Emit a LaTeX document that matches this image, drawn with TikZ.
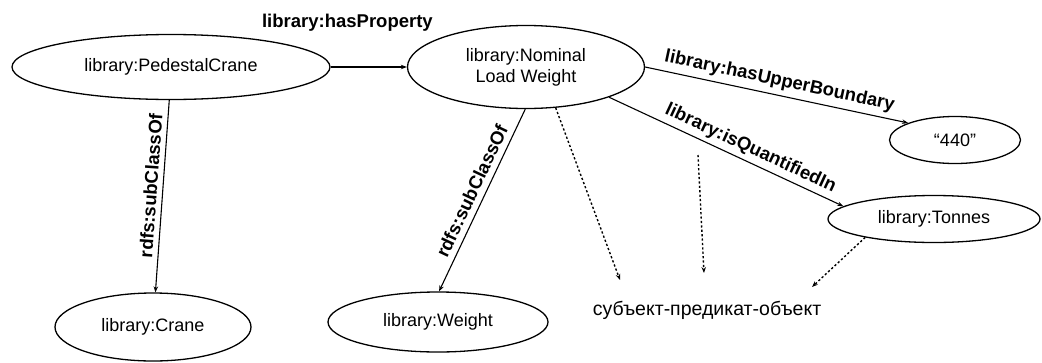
\documentclass[tikz,border=0pt]{standalone}
\usepackage{fontspec}
\setmainfont{Liberation Sans}
\usetikzlibrary{shapes.geometric,arrows.meta}
\begin{document}
\begin{tikzpicture}[x=1pt,y=-1pt,
  ell/.style={shape=ellipse,draw,line width=1.3pt,inner sep=0pt,align=center,font=\fontsize{18}{21}\selectfont},
  conn/.style={line width=1.1pt,-{Stealth[length=6pt,width=4.5pt]}},
  dconn/.style={line width=1.4pt,dash pattern=on 2.2pt off 2.2pt,-{Stealth[length=6pt,width=4.5pt]}},
  lbl/.style={font=\bfseries\fontsize{18.5}{21}\selectfont,inner sep=1pt}]
\useasboundingbox (0,0) rectangle (1042,362);
\node[ell,minimum width=318pt,minimum height=65pt] (pc) at (171,67) {library:PedestalCrane};
\node[ell,minimum width=237pt,minimum height=83pt] (nlw) at (526,67) {library:Nominal\\Load Weight};
\node[ell,minimum width=131pt,minimum height=47pt] (v440) at (955,140) {``440''};
\node[ell,minimum width=212pt,minimum height=47pt] (tonnes) at (934,219) {library:Tonnes};
\node[ell,minimum width=196pt,minimum height=68pt] (crane) at (153,327) {library:Crane};
\node[ell,minimum width=220pt,minimum height=60pt] (weight) at (438,322) {library:Weight};
\node[font=\fontsize{19.5}{22}\selectfont,inner sep=0pt] (spo) at (707,310) {субъект-предикат-объект};
\coordinate (d1) at (620,280);
\coordinate (d2s) at (698,155);
\coordinate (d2e) at (704,273);
\coordinate (d3) at (812,287);
\draw[conn] (pc.east) -- node[lbl,above=34pt,pos=0.22] {library:hasProperty} (nlw.west);
\draw[conn] (pc.-93) -- node[lbl,sloped,above=4pt,pos=0.45] {rdfs:subClassOf} (crane.86);
\draw[conn] (nlw.-91) -- node[lbl,sloped,above=5pt,pos=0.48] {rdfs:subClassOf} (weight.88);
\draw[conn] (nlw.east) -- node[lbl,sloped,above=4pt,pos=0.5] {library:hasUpperBoundary} (v440.160);
\draw[conn] (nlw.-20) -- node[lbl,sloped,above=3pt,pos=0.58] {library:isQuantifiedIn} (tonnes.172);
\draw[dconn] (nlw.-54) -- (d1);
\draw[dconn] (d2s) -- (d2e);
\draw[dconn] (tonnes.-165) -- (d3);
\end{tikzpicture}
\end{document}
